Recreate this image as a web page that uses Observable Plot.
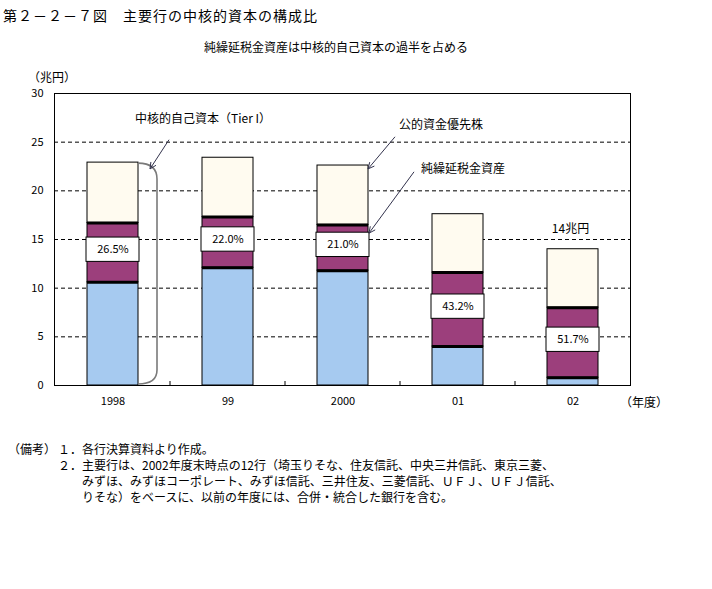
<!DOCTYPE html>
<html><head><meta charset="utf-8">
<script src="https://cdn.jsdelivr.net/npm/d3@7"></script>
<script src="https://cdn.jsdelivr.net/npm/@observablehq/plot@0.6"></script>
<style>
body{margin:0;background:#fff;font-family:"Noto Sans CJK JP",sans-serif;color:#000}
#wrap{position:relative;width:712px;height:589px;overflow:hidden;background:#fff}
.t{position:absolute;white-space:nowrap;font-size:12px;line-height:16px}
#chart{position:absolute;left:0;top:60px}
</style></head><body><div id="wrap">
<div class="t" style="left:3px;top:6px;font-size:14px;line-height:18px;letter-spacing:1px">第２－２－７図　主要行の中核的資本の構成比</div>
<div class="t" style="left:204px;top:39px">純繰延税金資産は中核的自己資本の過半を占める</div>
<div id="chart"></div>
<div class="t" style="left:8px;top:441px">（備考）</div>
<div class="t" style="left:58px;top:441px">１．各行決算資料より作成。</div>
<div class="t" style="left:58px;top:457px">２．主要行は、2002年度末時点の12行（埼玉りそな、住友信託、中央三井信託、東京三菱、</div>
<div class="t" style="left:82px;top:473px">みずほ、みずほコーポレート、みずほ信託、三井住友、三菱信託、ＵＦＪ、ＵＦＪ信託、</div>
<div class="t" style="left:82px;top:489px">りそな）をベースに、以前の年度には、合併・統合した銀行を含む。</div>
</div>
<script>
// ---- data (兆円) ----
const years = ["1998", "99", "2000", "01", "02"];
const parts = ["その他", "純繰延税金資産", "公的資金優先株"];
const other = [10.6, 12.1, 11.8, 4.0, 0.8];
const dta = [6.1, 5.2, 4.7, 7.6, 7.2];
const publicFunds = [6.2, 6.1, 6.1, 6.0, 6.0];
const dtaShare = [26.5, 22.0, 21.0, 43.2, 51.7];
const yTicks = [0, 5, 10, 15, 20, 25, 30];
const gridTicks = [5, 10, 15, 20, 25];
const colors = ["#A6CAF0", "#9C3F7C", "#FFFBF0"];

const rows = years.flatMap((yr, i) => [
  {year: yr, part: parts[0], value: other[i]},
  {year: yr, part: parts[1], value: dta[i]},
  {year: yr, part: parts[2], value: publicFunds[i]}
]);
const bounds = years.flatMap((yr, i) => [
  {year: yr, v: other[i]},
  {year: yr, v: other[i] + dta[i]}
]);
const labels = years.map((yr, i) => ({
  year: yr, mid: other[i] + dta[i] / 2 + 0.3, pct: dtaShare[i],
  total: other[i] + dta[i] + publicFunds[i]
}));

function arrow(g, x1, y1, x2, y2) {
  g.append("line").attr("x1", x1).attr("y1", y1).attr("x2", x2).attr("y2", y2)
    .attr("stroke", "#33334d").attr("stroke-width", 1);
  const a = Math.atan2(y2 - y1, x2 - x1), L = 7, w = 0.45;
  const p = [[x2 - L * Math.cos(a - w), y2 - L * Math.sin(a - w)], [x2, y2],
             [x2 - L * Math.cos(a + w), y2 - L * Math.sin(a + w)]];
  g.append("path").attr("d", "M" + p.join("L")).attr("fill", "none")
    .attr("stroke", "#33334d").attr("stroke-width", 1);
}

function annotations(index, scales, values, dims) {
  const x = scales.x, y = scales.y;
  const bw = x.bandwidth(), step = x.step();
  const g = d3.create("svg:g").attr("font-family", "Noto Sans CJK JP").attr("font-size", 12)
    .attr("text-anchor", "start").attr("fill", "#000");
  const xr = k => x(k) + bw; // right edge of a bar
  // category separators on the bottom axis
  years.slice(1).forEach(k => {
    const xb = x(k) - (step - bw) / 2;
    g.append("line").attr("x1", xb).attr("x2", xb).attr("y1", y(0)).attr("y2", y(0) - 4)
      .attr("stroke", "#000");
  });
  // unit labels
  g.append("text").attr("x", dims.marginLeft - 26).attr("y", 18).attr("dy", "0.35em").text("（兆円）");
  g.append("text").attr("x", dims.width - dims.marginRight - 10).attr("y", y(0) + 18)
    .attr("dy", "0.35em").text("（年度）");
  // brace for Tier I (1998)
  const bx = xr(years[0]), yt = y(labels[0].total) + 1, yb = y(0) - 1;
  g.append("path")
    .attr("d", `M${bx},${yt}C${bx + 12},${yt} ${bx + 19},${yt + 5} ${bx + 19},${yt + 16}L${bx + 19},${yb - 14}C${bx + 19},${yb - 4} ${bx + 12},${yb} ${bx},${yb}`)
    .attr("fill", "none").attr("stroke", "#7a7a7a").attr("stroke-width", 1.6);
  g.append("text").attr("x", bx - 3).attr("y", y(27.3)).attr("dy", "0.35em").text("中核的自己資本（Tier I）");
  arrow(g, bx + 31, y(25.2), bx + 12, y(22.2));
  // 2000 labels
  const cx = xr(years[2]);
  g.append("text").attr("x", cx + 31).attr("y", y(26.7)).attr("dy", "0.35em").text("公的資金優先株");
  arrow(g, cx + 27, y(25.5), cx, y(22.2));
  g.append("text").attr("x", cx + 53).attr("y", y(22.2)).attr("dy", "0.35em").text("純繰延税金資産");
  arrow(g, cx + 46, y(21.9), cx + 1, y(15.6));
  // total of 2002
  const last = labels[4];
  g.append("text").attr("x", x(last.year) + bw / 2 - 2).attr("y", y(last.total) - 20)
    .attr("dy", "0.35em").attr("text-anchor", "middle").text(Math.round(last.total) + "兆円");
  return g.node();
}

const plot = Plot.plot({
  width: 712, height: 360,
  marginLeft: 54, marginRight: 82, marginTop: 33, marginBottom: 35,
  style: {fontFamily: "Noto Sans CJK JP", fontSize: "11px", background: "white", overflow: "visible"},
  x: {domain: years, paddingInner: 0.56, paddingOuter: 0.28, label: null},
  y: {domain: [0, 30], label: null},
  color: {domain: parts, range: colors},
  marks: [
    Plot.ruleY(gridTicks, {stroke: "#000", strokeDasharray: "4,3", strokeWidth: 1}),
    Plot.barY(rows, {x: "year", y: "value", fill: "part", stroke: "#000", strokeWidth: 1}),
    Plot.tickY(bounds, {x: "year", y: "v", stroke: "#000", strokeWidth: 3}),
    Plot.barY(labels, {x: "year", y1: d => d.mid - 1.25, y2: d => d.mid + 1.25, fill: "white", stroke: "#000", insetLeft: -1, insetRight: -1}),
    Plot.text(labels, {x: "year", y: "mid", text: d => d.pct.toFixed(1) + "%", fontSize: 11, fill: "#000"}),
    Plot.frame({stroke: "#000"}),
    Plot.axisY({ticks: yTicks, tickSize: 0, tickPadding: 11, label: null}),
    Plot.axisX({tickSize: 0, tickPadding: 12, label: null}),
    annotations
  ]
});
document.getElementById("chart").appendChild(plot);
</script>
</body></html>
